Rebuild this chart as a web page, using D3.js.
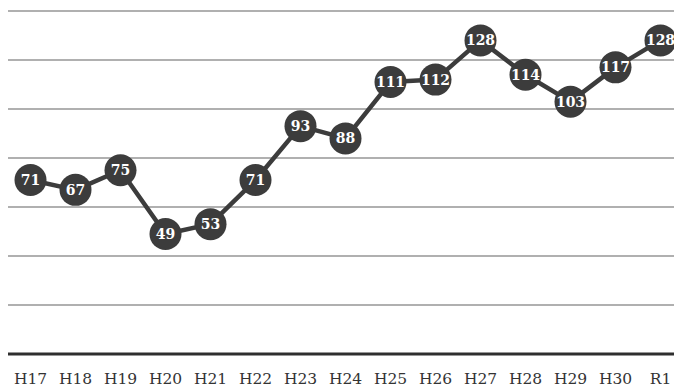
<!DOCTYPE html>
<html>
<head>
<meta charset="utf-8">
<script src="https://cdn.jsdelivr.net/npm/d3@7"></script>
<style>
  html, body { margin: 0; padding: 0; background: #fff; }
  svg { display: block; }
</style>
</head>
<body>
<svg id="chart" width="674" height="387"></svg>
<script>
// Fiscal years (Heisei 17 .. Reiwa 1)
const years = ["H17","H18","H19","H20","H21","H22","H23","H24","H25","H26","H27","H28","H29","H30","R1"];
const counts = [71, 67, 75, 49, 53, 71, 93, 88, 111, 112, 128, 114, 103, 117, 128];
const gridTicks = [20, 40, 60, 80, 100, 120, 140];

const svg = d3.select("#chart");
const plot = { left: 8, right: 683, top: 11, bottom: 354 };

const x = d3.scaleBand().domain(years).range([plot.left, plot.right]).padding(0);
const y = d3.scaleLinear().domain([0, 140]).range([plot.bottom, plot.top]);
const cx = d => x(d) + x.bandwidth() / 2;

// horizontal gridlines
svg.append("g")
  .selectAll("line")
  .data(gridTicks)
  .join("line")
  .attr("x1", plot.left).attr("x2", plot.right)
  .attr("y1", d => y(d)).attr("y2", d => y(d))
  .attr("stroke", "#b0b0b0")
  .attr("stroke-width", 2);

// baseline
svg.append("line")
  .attr("x1", plot.left).attr("x2", plot.right)
  .attr("y1", y(0)).attr("y2", y(0))
  .attr("stroke", "#2e2e2e")
  .attr("stroke-width", 3);

// category axis labels
const xAxis = d3.axisBottom(x).tickSize(0).tickPadding(0);
const ax = svg.append("g").attr("transform", `translate(0,${y(0)})`).call(xAxis);
ax.select(".domain").remove();
ax.selectAll("text")
  .attr("y", 29.5)
  .attr("dy", 0)
  .attr("fill", "#333")
  .style("font-family", "'DejaVu Serif', serif")
  .style("font-size", "15.5px");

const pts = years.map((yr, i) => ({ yr, v: counts[i] }));

// connecting line
svg.append("path")
  .datum(pts)
  .attr("fill", "none")
  .attr("stroke", "#3c3c3c")
  .attr("stroke-width", 4.5)
  .attr("stroke-linejoin", "round")
  .attr("d", d3.line().x(d => cx(d.yr)).y(d => y(d.v)));

// markers with value labels
const mk = svg.append("g").selectAll("g").data(pts).join("g")
  .attr("transform", d => `translate(${cx(d.yr)},${y(d.v)})`);
mk.append("circle").attr("r", 16).attr("fill", "#3c3c3c");
mk.append("text")
  .text(d => d.v)
  .attr("text-anchor", "middle")
  .attr("dy", "0.36em")
  .attr("fill", "#fff")
  .style("font-family", "'DejaVu Serif', serif")
  .style("font-weight", "bold")
  .style("font-size", "14px");
</script>
</body>
</html>
